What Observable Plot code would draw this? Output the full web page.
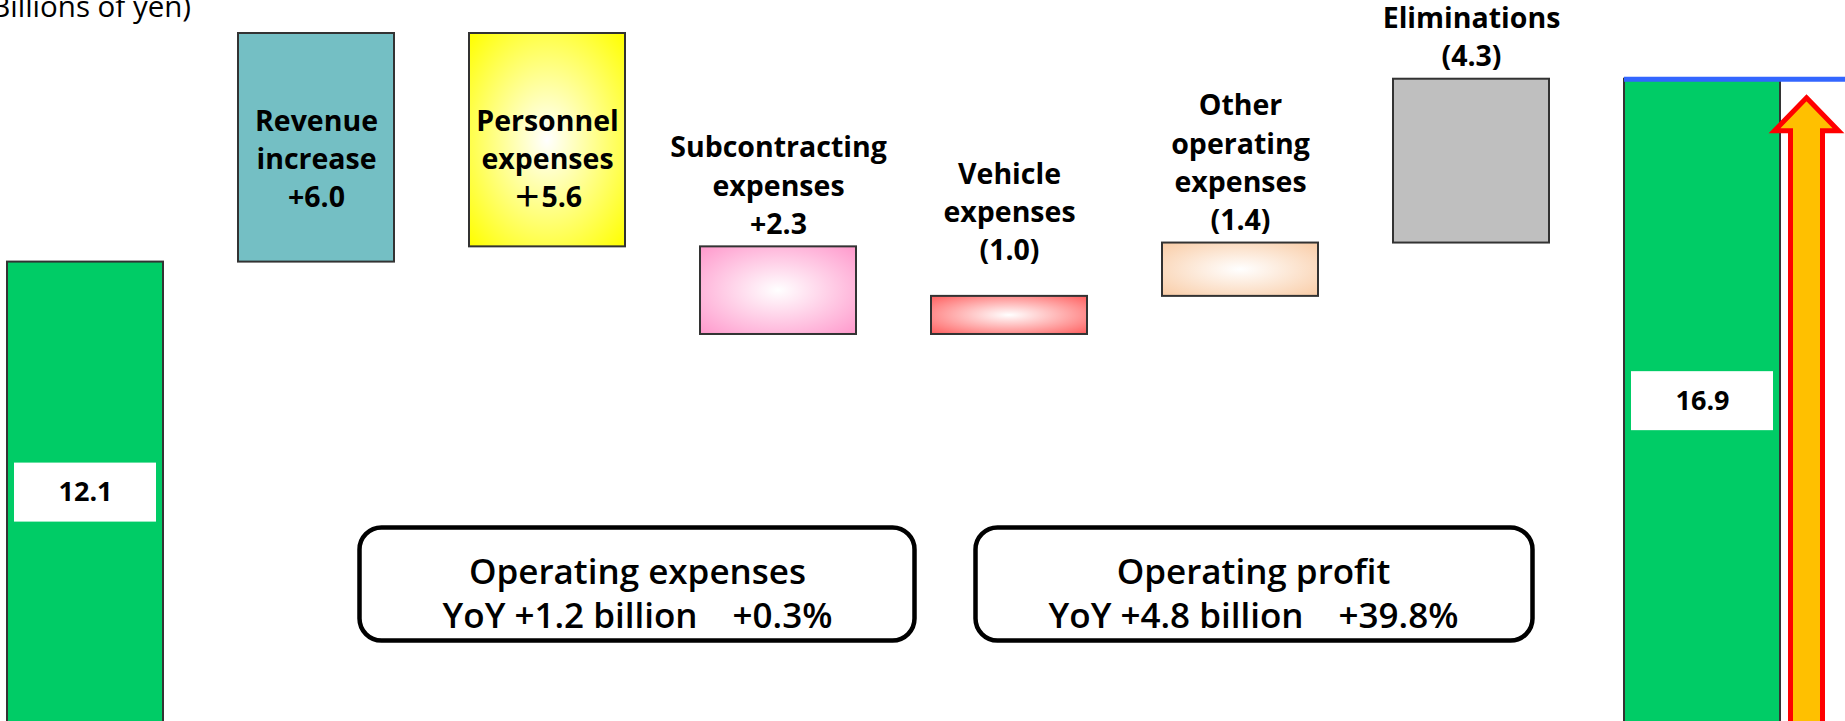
<!DOCTYPE html>
<html>
<head>
<meta charset="utf-8">
<script src="https://cdn.jsdelivr.net/npm/d3@7"></script>
<script src="https://cdn.jsdelivr.net/npm/@observablehq/plot@0.6"></script>
<style>
  html, body { margin: 0; padding: 0; background: #ffffff; overflow: hidden; }
  #chart { width: 1845px; height: 721px; overflow: hidden; }
</style>
</head>
<body>
<div id="chart"></div>
<script>
// ---------- data ----------
const categories = ["Previous year", "Revenue increase", "Personnel expenses", "Subcontracting expenses",
                    "Vehicle expenses", "Other operating expenses", "Eliminations", "Current year"];
const startValue = 12.1;
const changes = [6.0, -5.6, -2.3, 1.0, 1.4, 4.3];   // effect on operating profit
const endValue = 16.9;
const changeLabels = [
  "Revenue\nincrease\n+6.0",
  "Personnel\nexpenses\n＋5.6",
  "Subcontracting\nexpenses\n+2.3",
  "Vehicle\nexpenses\n(1.0)",
  "Other\noperating\nexpenses\n(1.4)",
  "Eliminations\n(4.3)"
];
const totalLabels = ["12.1", "16.9"];
const unitLabel = "(Billions of yen)";
const summaryTitles = ["Operating expenses", "Operating profit"];
const summaryLines = ["YoY +1.2 billion　+0.3%", "YoY +4.8 billion　+39.8%"];

// ---------- derived tables ----------
let cum = startValue;
const steps = changes.map((c, i) => {
  const from = cum; cum += c;
  return {key: i, cat: categories[i + 1], lo: Math.min(from, cum), hi: Math.max(from, cum), label: changeLabels[i]};
});
const totals = [
  {cat: categories[0], value: startValue, label: totalLabels[0]},
  {cat: categories[categories.length - 1], value: endValue, label: totalLabels[1]}
];
const summaries = summaryTitles.map((t, i) => t + "\n" + summaryLines[i]);

// ---------- styles ----------
const stepFill = ["#74bfc4", "url(#g-yellow)", "url(#g-pink)", "url(#g-red)", "url(#g-peach)", "#bfbfbf"];
const gradients = [["g-yellow", "#ffff00"], ["g-pink", "#ff99cc"], ["g-red", "#ff5e5e"], ["g-peach", "#f9cca6"]];
const insideKeys = [0, 1];
const farKeys = [3];
const font = "'Open Sans', 'Noto Sans CJK JP', sans-serif";
const labelStyle = {fontSize: 28.5, fontWeight: 700, fill: "#000", lineHeight: 1.34, fontFamily: font};

const defs = () => {
  const d = d3.create("svg:defs");
  for (const [id, color] of gradients) {
    const g = d.append("radialGradient").attr("id", id).attr("cx", "50%").attr("cy", "50%").attr("r", "70%");
    g.append("stop").attr("offset", "0%").attr("stop-color", "#ffffff");
    g.append("stop").attr("offset", "100%").attr("stop-color", color);
  }
  return d.node();
};

// block arrow beside the final bar, from baseline up to the final value
const arrow = (index, scales) => {
  const endCat = categories[categories.length - 1];
  const bw = scales.x.bandwidth ? scales.x.bandwidth() : 0;
  const cx = scales.x(endCat) + bw + 26.5;
  const yTip = scales.y(endValue) + 19;
  const yBase = yTip + 33;
  const yBottom = scales.y(0) + 20;
  const hw = 16, hh = 32;
  const d = `M${cx},${yTip}L${cx + hh},${yBase}L${cx + hw},${yBase}L${cx + hw},${yBottom}` +
            `L${cx - hw},${yBottom}L${cx - hw},${yBase}L${cx - hh},${yBase}Z`;
  return d3.create("svg:path").attr("d", d).attr("fill", "#ffc000")
    .attr("stroke", "#ff0000").attr("stroke-width", 5).attr("stroke-linejoin", "miter").node();
};

const boxInsets = [
  {insetLeft: 359, insetRight: 931, insetTop: 527, insetBottom: 81},
  {insetLeft: 975, insetRight: 313, insetTop: 527, insetBottom: 81}
];
const boxCenters = [637, 1253];

const chart = Plot.plot({
  width: 1845,
  height: 721,
  marginTop: 0, marginRight: 0, marginBottom: 0, marginLeft: 0,
  style: {fontFamily: font, background: "#ffffff", color: "#000", overflow: "hidden"},
  x: {type: "band", domain: categories, range: [5, 1782], paddingInner: 0.326, paddingOuter: 0, axis: null},
  y: {domain: [0, d3.max(steps, d => d.hi)], range: [722.6, 33], axis: null},
  color: {type: "identity"},
  marks: [
    defs,
    Plot.text([unitLabel], {text: d => d, frameAnchor: "top-left", textAnchor: "start", lineAnchor: "top",
      dx: -18, dy: -4, fontSize: 29.5, fontWeight: 400, fill: "#000"}),
    // start / end totals
    Plot.barY(totals, {x: "cat", y1: () => 0, y2: "value", fill: "#00cc66", stroke: "#333", strokeWidth: 2}),
    // changes
    Plot.barY(steps, {x: "cat", y1: "lo", y2: "hi", fill: d => stepFill[d.key], stroke: "#333", strokeWidth: 2}),
    // value boxes on totals
    Plot.barY(totals, {x: "cat", y1: d => d.value / 2, y2: d => d.value / 2, fill: "#ffffff",
      insetLeft: 7, insetRight: 7, insetTop: -29.5, insetBottom: -29.5}),
    Plot.text(totals, {x: "cat", y: d => d.value / 2, text: "label", fontSize: 27, fontWeight: 700, fill: "#000"}),
    // change labels
    Plot.text(steps.filter(d => insideKeys.includes(d.key)), {x: "cat", y: "hi", text: "label",
      lineAnchor: "top", dy: 70, ...labelStyle}),
    Plot.text(steps.filter(d => !insideKeys.includes(d.key) && !farKeys.includes(d.key)), {x: "cat", y: "hi", text: "label",
      lineAnchor: "bottom", dy: -13, ...labelStyle}),
    Plot.text(steps.filter(d => farKeys.includes(d.key)), {x: "cat", y: "hi", text: "label",
      lineAnchor: "bottom", dy: -36, ...labelStyle}),
    // final level line and arrow
    Plot.tickY([endValue], {x: () => categories[categories.length - 1], y: d => d, stroke: "#3366ff", strokeWidth: 5, insetRight: -80}),
    arrow,
    // summary boxes
    ...boxInsets.map(ins => Plot.frame({...ins, rx: 22, ry: 22, fill: "#ffffff", stroke: "#000", strokeWidth: 4.5})),
    ...summaries.map((s, i) => Plot.text([s], {text: d => d, frameAnchor: "top-left", textAnchor: "middle",
      lineAnchor: "top", dx: boxCenters[i], dy: 552, fontSize: 35, fontWeight: 600, lineHeight: 1.26, fill: "#000"}))
  ]
});
document.getElementById("chart").appendChild(chart);
</script>
</body>
</html>
